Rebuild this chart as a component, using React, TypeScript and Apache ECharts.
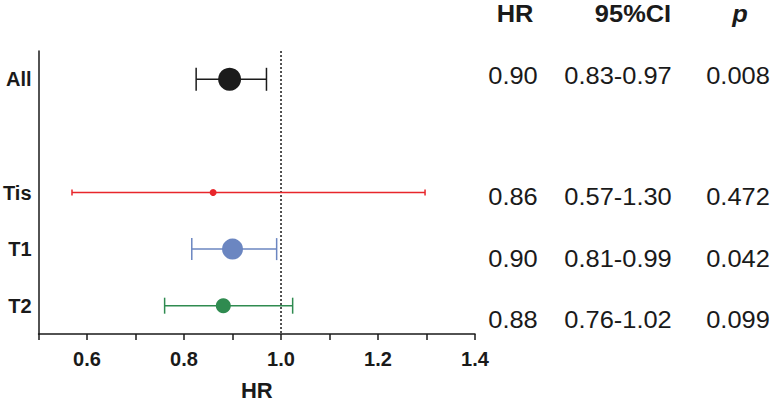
import React, { useEffect, useRef } from "react";
import * as echarts from "echarts";

const categories = ["All", "", "Tis", "T1", "T2"];
const groups = ["All", "Tis", "T1", "T2"];
const hrValues = [0.894, 0.86, 0.9, 0.881];
const ciLow = [0.825, 0.569, 0.816, 0.76];
const ciHigh = [0.97, 1.297, 0.991, 1.024];
const xTicks = [0.6, 0.8, 1.0, 1.2, 1.4];
const refValue = 1.0;

const tableHeaders = ["HR", "95%CI", "p"];
const hrText = ["0.90", "0.86", "0.90", "0.88"];
const ciText = ["0.83-0.97", "0.57-1.30", "0.81-0.99", "0.76-1.02"];
const pText = ["0.008", "0.472", "0.042", "0.099"];

// styles (not data)
const colors = ["#1b1b1b", "#e8262b", "#6b86c1", "#2f8b50"];
const pointSizes = [23, 7, 21, 15];
const capSizes = [23, 6, 22, 16];
const FONT = "'Liberation Sans', Arial, Helvetica, sans-serif";

export default function App() {
  const ref = useRef<HTMLDivElement>(null);
  useEffect(() => {
    if (!ref.current) return;
    const chart = echarts.init(ref.current, undefined, { renderer: "svg" });

    const headerX = [515, 633, 740];
    const headerY = 14;
    const colX = [513, 618, 738];
    const rowY = [75.5, 196.7, 259, 320];

    const graphics: any[] = [];
    tableHeaders.forEach((h, i) => {
      graphics.push({
        type: "text",
        x: headerX[i],
        y: headerY,
        scaleX: 1.06,
        style: {
          text: h,
          font: `${i === 2 ? "italic " : ""}bold 24px ${FONT}`,
          fill: "#1a1a1a",
          align: "center",
          verticalAlign: "middle",
        },
      });
    });
    groups.forEach((_, r) => {
      [hrText[r], ciText[r], pText[r]].forEach((t, c) => {
        graphics.push({
          type: "text",
          x: colX[c],
          y: rowY[r],
          scaleX: 1.06,
          style: {
            text: t,
            font: `24px ${FONT}`,
            fill: "#1a1a1a",
            align: "center",
            verticalAlign: "middle",
          },
        });
      });
    });

    chart.setOption({
      animation: false,
      grid: { left: 37, right: 297, top: 51, bottom: 65, containLabel: false },
      xAxis: {
        type: "value",
        min: 0.5,
        max: 1.4,
        interval: 0.1,
        splitLine: { show: false },
        axisLine: { show: true, onZero: false, lineStyle: { color: "#1a1a1a", width: 1.5 } },
        axisTick: { show: true, length: 6, lineStyle: { color: "#1a1a1a", width: 1.5 } },
        axisLabel: {
          margin: 15,
          color: "#1a1a1a",
          fontFamily: FONT,
          fontWeight: "bold",
          fontSize: 20,
          showMinLabel: true,
          showMaxLabel: true,
          formatter: (v: number) =>
            xTicks.some((t) => Math.abs(t - v) < 1e-6) ? v.toFixed(1) : "",
        },
        name: "HR",
        nameLocation: "middle",
        nameGap: 45,
        nameTextStyle: { color: "#1a1a1a", fontFamily: FONT, fontWeight: "bold", fontSize: 22 },
      },
      yAxis: {
        type: "category",
        data: categories,
        inverse: true,
        boundaryGap: true,
        axisLine: { show: true, lineStyle: { color: "#1a1a1a", width: 1.5 } },
        axisTick: { show: false },
        splitLine: { show: false },
        axisLabel: {
          margin: 7,
          interval: 0,
          color: "#1a1a1a",
          fontFamily: FONT,
          fontWeight: "bold",
          fontSize: 20,
        },
      },
      series: [
        {
          type: "custom",
          z: 2,
          clip: false,
          data: groups.map((g, i) => [ciLow[i], ciHigh[i], categories.indexOf(g), i]),
          dimensions: [
            { name: "low", type: "float" },
            { name: "high", type: "float" },
            { name: "cat", type: "int" },
            { name: "idx", type: "int" },
          ],
          encode: { x: [0, 1], y: 2 },
          renderItem: (params: any, api: any) => {
            const i = api.value(3);
            const cat = api.value(2);
            const p0 = api.coord([api.value(0), cat]);
            const p1 = api.coord([api.value(1), cat]);
            const h = capSizes[i] / 2;
            const style = { stroke: colors[i], lineWidth: 1.5, fill: "none" };
            return {
              type: "group",
              children: [
                { type: "line", shape: { x1: p0[0], y1: p0[1], x2: p1[0], y2: p1[1] }, style },
                { type: "line", shape: { x1: p0[0], y1: p0[1] - h, x2: p0[0], y2: p0[1] + h }, style },
                { type: "line", shape: { x1: p1[0], y1: p1[1] - h, x2: p1[0], y2: p1[1] + h }, style },
              ],
            };
          },
        },
        {
          type: "custom",
          z: 1,
          data: [[refValue]],
          renderItem: (params: any, api: any) => {
            const cs = params.coordSys;
            const x = api.coord([api.value(0), 0])[0];
            return {
              type: "line",
              shape: { x1: x, y1: cs.y, x2: x, y2: cs.y + cs.height },
              style: { stroke: "#1a1a1a", lineWidth: 1.5, lineDash: [2, 2], fill: "none" },
            };
          },
        },
        {
          type: "scatter",
          z: 3,
          data: groups.map((g, i) => ({
            value: [hrValues[i], categories.indexOf(g)],
            symbolSize: pointSizes[i],
            itemStyle: { color: colors[i], opacity: 1 },
          })),
        },
      ],
      graphic: graphics,
    });
    return () => chart.dispose();
  }, []);
  return <div ref={ref} style={{ width: 772, height: 406, position: "absolute", left: 0, top: 0 }} />;
}
